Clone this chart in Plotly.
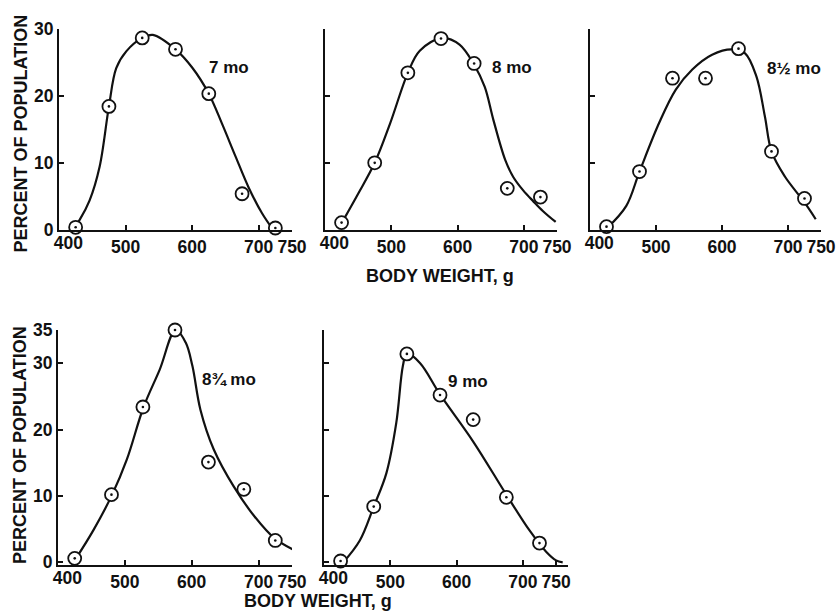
import plotly.graph_objects as go

W, H = 836, 613

# ---------------- data ----------------
x_ticks = [400, 500, 600, 700, 750]
x_ticklabels = ["", "500", "600", "700", "750"]
# the "400" label sits slightly right of the axis corner in the reference
x_first_label_pos = [414]
x_first_label = ["400"]

months = ["7 mo", "8 mo", "8½ mo", "8¾ mo", "9 mo"]

pts_7_x = [425, 475, 525, 575, 625, 675, 725]
pts_7_y = [0.4, 18.4, 28.6, 26.9, 20.3, 5.4, 0.3]
fit_7_x = [420, 431, 446, 461, 475, 486, 501, 525, 541, 575, 600, 625, 645, 665, 685, 705, 722]
fit_7_y = [0, 1.5, 4.4, 9.4, 18.4, 24.1, 26.6, 28.6, 29.05, 26.9, 24.2, 20.3, 15.8, 11.0, 6.3, 2.5, 0.0]

pts_8_x = [425, 475, 525, 575, 625, 675, 725]
pts_8_y = [1.1, 10.0, 23.4, 28.5, 24.8, 6.2, 4.9]
fit_8_x = [425, 450, 475, 498, 525, 543, 577, 603, 625, 641, 654, 672, 684, 699, 714, 729, 748]
fit_8_y = [1.0, 5.4, 10.0, 15.8, 23.4, 26.7, 28.6, 27.6, 24.6, 21.3, 16.4, 10.4, 7.9, 5.9, 4.3, 2.8, 1.2]

pts_85_x = [425, 475, 525, 575, 625, 675, 725]
pts_85_y = [0.5, 8.7, 22.6, 22.6, 27.0, 11.7, 4.7]
fit_85_x = [426, 455, 475, 505, 530, 555, 585, 615, 635, 652, 665, 675, 695, 725, 742]
fit_85_y = [0.3, 3.6, 8.7, 16.0, 20.9, 23.9, 26.1, 26.9, 26.3, 22.9, 16.9, 11.7, 8.0, 4.1, 1.6]

pts_875_x = [425, 480, 527, 575, 625, 678, 725]
pts_875_y = [0.6, 10.2, 23.4, 35.0, 15.1, 11.0, 3.3]
fit_875_x = [427, 453, 481, 503, 528, 552, 576, 591, 601, 613, 633, 663, 694, 724, 754]
fit_875_y = [0.6, 4.85, 10.2, 15.5, 23.4, 29.0, 35.0, 33.1, 29.6, 23.0, 17.0, 11.4, 6.9, 3.6, 1.8]

pts_9_x = [425, 475, 525, 575, 625, 675, 725]
pts_9_y = [0.2, 8.4, 31.4, 25.2, 21.5, 9.8, 2.9]
fit_9_x = [429, 454, 475, 494, 509, 519, 525, 545, 575, 625, 675, 710, 735, 750, 760]
fit_9_y = [0.0, 3.3, 8.4, 13.4, 21.0, 29.6, 31.5, 30.0, 25.3, 18.2, 10.2, 4.8, 1.6, 0.3, 0.0]

y_ticks_top = [0, 10, 20, 30]
y_ticks_bottom = [0, 10, 20, 30, 35]

# ---------------- layout helpers ----------------
def px_x(p):
    return p / W

def px_y(p):
    return 1 - p / H

FONT = "Liberation Sans, Arial, Helvetica, sans-serif"
BLACK = "#111111"
TICK_SIZE = 17.5
TICKFONT = dict(family=FONT, size=TICK_SIZE, color=BLACK, weight="bold")

panels = [
    (pts_7_x, pts_7_y, fit_7_x, fit_7_y, (59, 292), (28.5, 230), [400, 750], [0, 30], y_ticks_top, True, months[0], (229, 67)),
    (pts_8_x, pts_8_y, fit_8_x, fit_8_y, (325, 557), (28.5, 230), [400, 750], [0, 30], y_ticks_top, False, months[1], (512, 67)),
    (pts_85_x, pts_85_y, fit_85_x, fit_85_y, (590, 821), (28.5, 230), [400, 750], [0, 30], y_ticks_top, False, months[2], (794, 69)),
    (pts_875_x, pts_875_y, fit_875_x, fit_875_y, (58, 292), (330, 565), [400, 750], [-0.4, 35], y_ticks_bottom, True, months[3], (229, 379)),
    (pts_9_x, pts_9_y, fit_9_x, fit_9_y, (324, 568), (330, 565), [400, 768], [-0.4, 35], y_ticks_bottom, False, months[4], (468, 381)),
]
NP = len(panels)

fig = go.Figure()
annotations = []

for i, (px_, py_, fx, fy, xd, yd, xr, yr, yt, showyl, lab, lpos) in enumerate(panels):
    n = i + 1
    xa = "x" if n == 1 else f"x{n}"
    ya = "y" if n == 1 else f"y{n}"
    xo = f"x{n + NP}"
    fig.add_trace(go.Scatter(
        x=fx, y=fy, mode="lines", xaxis=xa, yaxis=ya,
        line=dict(color=BLACK, width=2.2, shape="spline", smoothing=1.0),
        hoverinfo="skip", showlegend=False, cliponaxis=False,
    ))
    fig.add_trace(go.Scatter(
        x=px_, y=py_, mode="markers", xaxis=xa, yaxis=ya,
        marker=dict(symbol="circle", size=13, color="white",
                    line=dict(color=BLACK, width=1.8)),
        showlegend=False, cliponaxis=False,
    ))
    fig.add_trace(go.Scatter(
        x=px_, y=py_, mode="markers", xaxis=xa, yaxis=ya,
        marker=dict(symbol="circle", size=2.6, color=BLACK, line=dict(width=0)),
        showlegend=False, hoverinfo="skip", cliponaxis=False,
    ))
    # empty trace so the label-only overlay axis is drawn
    fig.add_trace(go.Scatter(x=[], y=[], xaxis=xo, yaxis=ya, showlegend=False, hoverinfo="skip"))

    xkey = "xaxis" if n == 1 else f"xaxis{n}"
    ykey = "yaxis" if n == 1 else f"yaxis{n}"
    fig.update_layout(**{
        xkey: dict(
            domain=[px_x(xd[0]), px_x(xd[1])], range=xr, anchor=ya,
            tickvals=x_ticks, ticktext=x_ticklabels,
            showline=True, linecolor=BLACK, linewidth=2,
            ticks="inside", ticklen=5, tickwidth=1.5, tickcolor=BLACK,
            showgrid=False, zeroline=False, automargin=False,
            tickfont=TICKFONT, fixedrange=True,
        ),
        f"xaxis{n + NP}": dict(
            overlaying=xa, range=xr, anchor=ya, side="bottom",
            tickvals=x_first_label_pos, ticktext=x_first_label,
            showline=False, ticks="", showgrid=False, zeroline=False,
            automargin=False, tickfont=TICKFONT, fixedrange=True,
        ),
        ykey: dict(
            domain=[px_y(yd[1]), px_y(yd[0])], range=yr, anchor=xa,
            tickvals=yt, ticktext=[str(v) for v in yt],
            showticklabels=showyl,
            showline=True, linecolor=BLACK, linewidth=2,
            ticks="inside", ticklen=5, tickwidth=1.5, tickcolor=BLACK,
            showgrid=False, zeroline=False, automargin=False,
            tickfont=TICKFONT, fixedrange=True,
        ),
    })
    annotations.append(dict(
        text=lab, x=px_x(lpos[0]), y=px_y(lpos[1]), xref="paper", yref="paper",
        xanchor="center", yanchor="middle", showarrow=False,
        font=dict(family=FONT, size=17, color=BLACK, weight="bold"),
    ))

# axis titles
for (cx, cy) in [(440, 276.5), (317.5, 601)]:
    annotations.append(dict(
        text="BODY WEIGHT, g", x=px_x(cx), y=px_y(cy), xref="paper", yref="paper",
        xanchor="center", yanchor="middle", showarrow=False,
        font=dict(family=FONT, size=18, color=BLACK, weight="bold"),
    ))
for (cx, cy) in [(20.5, 134), (20, 445)]:
    annotations.append(dict(
        text="PERCENT OF POPULATION", x=px_x(cx), y=px_y(cy), xref="paper", yref="paper",
        xanchor="center", yanchor="middle", showarrow=False, textangle=-90,
        font=dict(family=FONT, size=18, color=BLACK, weight="bold"),
    ))

fig.update_layout(
    width=W, height=H,
    margin=dict(l=0, r=0, t=0, b=0, pad=0, autoexpand=False),
    paper_bgcolor="white", plot_bgcolor="white",
    annotations=annotations,
    showlegend=False,
)

fig.write_html(
    "out.html",
    config={"displayModeBar": False},
    post_script="document.body.style.margin='0px';document.body.style.padding='0px';document.body.style.overflow='hidden';",
)
